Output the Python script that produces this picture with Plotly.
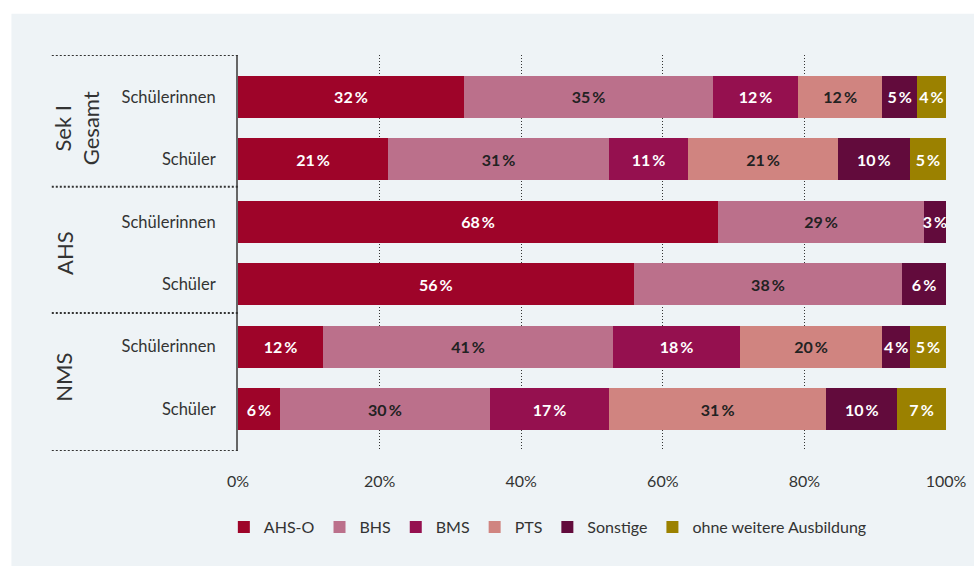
import plotly.graph_objects as go

# ---- data ----
row_labels = ["Schülerinnen", "Schüler", "Schülerinnen", "Schüler", "Schülerinnen", "Schüler"]
group_labels = ["Sek I<br>Gesamt", "AHS", "NMS"]
series_names = ["AHS-O", "BHS", "BMS", "PTS", "Sonstige", "ohne weitere Ausbildung"]

ahs_o    = [31.9, 21.2, 67.8, 55.9, 12.0, 5.9]
bhs      = [35.2, 31.2, 29.1, 37.9, 41.0, 29.7]
bms      = [12.0, 11.2, 0.0, 0.0, 17.9, 16.8]
pts      = [11.9, 21.1, 0.0, 0.0, 20.1, 30.7]
sonstige = [4.9, 10.2, 3.1, 6.2, 3.9, 10.0]
ohne     = [4.1, 5.1, 0.0, 0.0, 5.1, 6.9]

x_tick_vals = [0, 20, 40, 60, 80, 100]
x_tick_text = ["0%", "20%", "40%", "60%", "80%", "100%"]

# ---- styles ----
colors = ["#9e0429", "#bb708b", "#95104f", "#d08480", "#620b3c", "#9b8100"]
text_colors = ["white", "#222222", "white", "#222222", "white", "white"]
FONT = "Lato"
BG = "#eef3f6"

series = [ahs_o, bhs, bms, pts, sonstige, ohne]
ypos = list(range(len(row_labels)))

fig = go.Figure()
for name, vals, col, tcol in zip(series_names, series, colors, text_colors):
    labels = [f"{round(v)}\u2009%" if v > 0 else "" for v in vals]
    fig.add_trace(go.Bar(
        name=name, orientation="h", x=vals, y=ypos,
        marker=dict(color=col, line=dict(width=0)),
        text=labels, texttemplate="%{text}", textposition="inside",
        insidetextanchor="middle", textangle=0,
        textfont=dict(family=FONT, size=16, color=tcol, weight="bold"),
        width=0.67, hoverinfo="skip",
    ))

shapes = [
    # background panel
    dict(type="rect", xref="paper", yref="paper", x0=-0.32, x1=1.05, y0=-0.3, y1=1.104,
         fillcolor=BG, line=dict(width=0), layer="below"),
]
# dotted separators on the left side
for yv in [-0.673, 1.44, 3.46, 5.673]:
    shapes.append(dict(type="line", xref="paper", yref="y", x0=-0.263, x1=0, y0=yv, y1=yv,
                       line=dict(color="#333333", width=2, dash="2px,2px")))

annotations = []
for g, yv, xp in zip(group_labels, [0.5, 2.5, 4.5], [77, 64, 64]):
    annotations.append(dict(text=g, xref="paper", yref="y", x=(xp - 238) / 708, y=yv,
                            textangle=-90, showarrow=False, xanchor="center", yanchor="middle",
                            font=dict(family=FONT, size=22, color="#333333")))

fig.update_layout(
    width=974, height=566, autosize=False,
    margin=dict(l=238, r=28, t=55, b=115, autoexpand=False),
    paper_bgcolor="white", plot_bgcolor=BG,
    barmode="stack", bargap=0.33,
    showlegend=True,
    legend=dict(orientation="h", x=-0.02, y=-0.192, xanchor="left", yanchor="middle",
                font=dict(family=FONT, size=16, color="#333333"), traceorder="normal",
                bgcolor="rgba(0,0,0,0)"),
    uniformtext=dict(minsize=16, mode="show"),
    font=dict(family=FONT, color="#333333"),
    shapes=shapes, annotations=annotations,
)
fig.update_xaxes(range=[0, 100], tickvals=x_tick_vals, ticktext=x_tick_text,
                 showgrid=True, gridcolor="#333333", griddash="1px,2px", gridwidth=1.2,
                 zeroline=False, showline=False, ticks="", ticklabelstandoff=19, automargin=False,
                 tickfont=dict(family=FONT, size=16, color="#333333"), fixedrange=True)
fig.update_yaxes(range=[5.673, -0.673], tickvals=ypos, ticktext=row_labels,
                 showgrid=False, zeroline=False, showline=True, linecolor="#666666", linewidth=2,
                 ticks="", ticklabelstandoff=17, automargin=False,
                 tickfont=dict(family=FONT, size=16.5, color="#333333"), fixedrange=True)

fig.write_html("out.html", config={"displayModeBar": False},
               post_script="document.body.style.margin='0';document.body.style.overflow='hidden';")
